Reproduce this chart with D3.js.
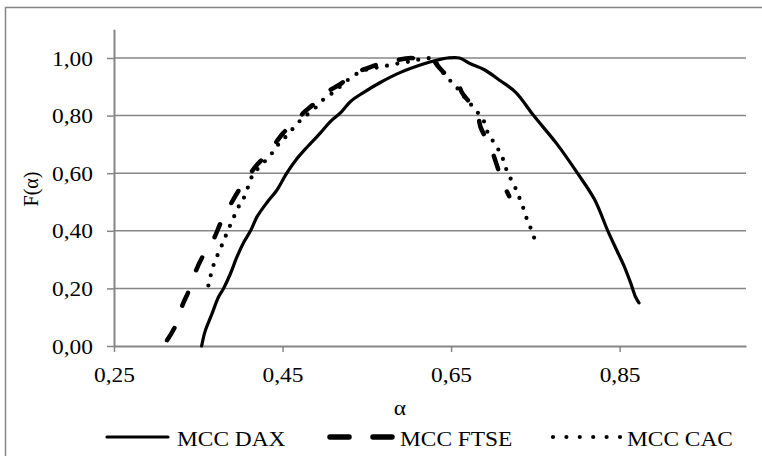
<!DOCTYPE html>
<html>
<head>
<meta charset="utf-8">
<script src="https://cdn.jsdelivr.net/npm/d3@7"></script>
<style>
  body { margin: 0; background: #fff; }
  text { font-family: "Liberation Serif", "Times New Roman", serif; fill: #000; }
</style>
</head>
<body>
<svg id="chart" width="762" height="456"></svg>
<script>
// tick values
const xTicks = [0.25, 0.45, 0.65, 0.85];
const yTicks = [0, 0.2, 0.4, 0.6, 0.8, 1.0];
const seriesNames = ['MCC DAX', 'MCC FTSE', 'MCC CAC'];

// [alpha, F(alpha)]
const daxData = [
  [0.354, 0.00], [0.358, 0.05], [0.366, 0.11], [0.374, 0.17], [0.380, 0.20],
  [0.388, 0.25], [0.396, 0.31], [0.404, 0.36], [0.412, 0.40], [0.420, 0.45],
  [0.432, 0.50], [0.443, 0.54], [0.455, 0.60], [0.467, 0.65], [0.479, 0.69],
  [0.495, 0.74], [0.507, 0.78], [0.519, 0.81], [0.531, 0.85], [0.546, 0.88],
  [0.566, 0.915], [0.590, 0.95], [0.618, 0.98], [0.634, 0.993], [0.646, 1.00],
  [0.660, 1.00], [0.673, 0.98], [0.689, 0.96], [0.709, 0.92], [0.727, 0.88],
  [0.748, 0.80], [0.776, 0.70], [0.800, 0.60], [0.820, 0.51], [0.836, 0.40],
  [0.847, 0.33], [0.855, 0.28], [0.863, 0.22], [0.869, 0.17], [0.873, 0.15]
];
const ftseData = [
  [0.313, 0.02], [0.323, 0.07], [0.331, 0.14], [0.340, 0.20], [0.347, 0.26],
  [0.357, 0.32], [0.368, 0.37], [0.377, 0.43], [0.388, 0.49], [0.398, 0.54],
  [0.412, 0.60], [0.420, 0.63], [0.433, 0.67], [0.443, 0.71], [0.451, 0.74],
  [0.469, 0.79], [0.475, 0.81], [0.487, 0.84], [0.497, 0.87], [0.507, 0.89],
  [0.519, 0.91], [0.527, 0.93], [0.534, 0.95], [0.546, 0.96], [0.566, 0.98],
  [0.582, 0.99], [0.602, 1.00], [0.615, 0.995], [0.626, 1.00], [0.635, 0.97],
  [0.645, 0.94], [0.657, 0.92], [0.663, 0.88], [0.681, 0.81], [0.685, 0.76],
  [0.697, 0.69], [0.703, 0.64], [0.711, 0.57], [0.719, 0.52]
];
const cacData = [
  [0.362, 0.21], [0.368, 0.28], [0.378, 0.35], [0.388, 0.42], [0.399, 0.49],
  [0.405, 0.52], [0.414, 0.59], [0.422, 0.62], [0.435, 0.66], [0.445, 0.70],
  [0.455, 0.73], [0.470, 0.78], [0.478, 0.80], [0.490, 0.83], [0.500, 0.86],
  [0.510, 0.88], [0.522, 0.91], [0.535, 0.94], [0.550, 0.96], [0.568, 0.97],
  [0.585, 0.98], [0.605, 0.99], [0.622, 1.00], [0.630, 0.99], [0.643, 0.94],
  [0.656, 0.90], [0.667, 0.86], [0.679, 0.82], [0.689, 0.78], [0.695, 0.73],
  [0.703, 0.70], [0.708, 0.67], [0.713, 0.64], [0.717, 0.60], [0.723, 0.57],
  [0.729, 0.53], [0.733, 0.50], [0.738, 0.46], [0.741, 0.43], [0.746, 0.40],
  [0.750, 0.36]
];

const svg = d3.select('#chart');
const grey = '#868686';
const sx = 1.17;   // the original picture is stretched sideways
const fmt = d => d3.format('.2f')(d).replace('.', ',');

// outer frame (runs off the right and bottom of the picture)
svg.append('rect')
  .attr('x', 5.5).attr('y', 7.5)
  .attr('width', 800).attr('height', 500)
  .attr('fill', 'none').attr('stroke', grey).attr('stroke-width', 1.5);

const x = d3.scaleLinear().domain([0.25, 1.0]).range([114, 746]);
const y = d3.scaleLinear().domain([0, 1.1]).range([346, 29.2]);

// gridlines
svg.append('g')
  .selectAll('line')
  .data(yTicks.filter(d => d > 0))
  .join('line')
  .attr('x1', x(0.25)).attr('x2', x(1.0))
  .attr('y1', d => y(d)).attr('y2', d => y(d))
  .attr('stroke', grey).attr('stroke-width', 1.5);

// y axis
const gy = svg.append('g')
  .attr('transform', `translate(${x(0.25)},0)`)
  .call(d3.axisLeft(y).tickValues(yTicks).tickFormat(fmt).tickSize(7).tickSizeOuter(0));
gy.select('.domain').attr('stroke', grey).attr('stroke-width', 2);
gy.selectAll('.tick line').attr('stroke', grey).attr('stroke-width', 1.5);
gy.selectAll('.tick text')
  .attr('x', null).attr('dy', '0.35em')
  .attr('transform', `translate(-21,0) scale(${sx},1)`)
  .style('font-size', '20px');

// x axis
const gx = svg.append('g')
  .attr('transform', `translate(0,${y(0)})`)
  .call(d3.axisBottom(x).tickValues(xTicks).tickFormat(fmt).tickSize(6).tickSizeOuter(0));
gx.select('.domain').attr('stroke', grey).attr('stroke-width', 2);
gx.selectAll('.tick line').attr('stroke', grey).attr('stroke-width', 1.5);
gx.selectAll('.tick text')
  .attr('y', null).attr('dy', '0.35em')
  .attr('transform', `translate(0,29) scale(${sx},1)`)
  .style('font-size', '20px');

svg.selectAll('.tick text').attr('font-family', null);

// axis titles
svg.append('text')
  .attr('transform', `translate(400,408) scale(${sx},1)`)
  .attr('text-anchor', 'middle').attr('dy', '0.35em')
  .style('font-size', '20px')
  .text('α');

svg.append('text')
  .attr('transform', 'translate(31,189) rotate(-90)')
  .attr('text-anchor', 'middle').attr('dy', '0.35em')
  .style('font-size', '20px')
  .text('F(α)');

// series
const line = d3.line()
  .x(d => x(d[0]))
  .y(d => y(d[1]))
  .curve(d3.curveCatmullRom.alpha(0.5));
const series = [
  { data: daxData, width: 3.2, dash: null },
  { data: ftseData, width: 4.5, dash: '14 24' },
  { data: cacData, width: 4.2, dash: '0 10.6' }
];
series.forEach(s => {
  svg.append('path')
    .datum(s.data)
    .attr('d', line)
    .attr('fill', 'none')
    .attr('stroke', '#000')
    .attr('stroke-width', s.width)
    .attr('stroke-linecap', 'round')
    .attr('stroke-linejoin', 'round')
    .attr('stroke-dasharray', s.dash);
});

// legend
const legendItems = [
  { x1: 107, x2: 168, tx: 177, width: 3.2, dash: null },
  { x1: 330, x2: 392, tx: 400, width: 5.5, dash: '19 24' },
  { x1: 553, x2: 620, tx: 627, width: 4.2, dash: '0 13.4' }
];
const legend = svg.append('g');
legendItems.forEach((d, i) => {
  legend.append('line')
    .attr('x1', d.x1).attr('x2', d.x2)
    .attr('y1', 437).attr('y2', 437)
    .attr('stroke', '#000')
    .attr('stroke-width', d.width)
    .attr('stroke-linecap', 'round')
    .attr('stroke-dasharray', d.dash);
  legend.append('text')
    .attr('transform', `translate(${d.tx},439) scale(${sx},1)`)
    .attr('dy', '0.35em')
    .style('font-size', '20px')
    .text(seriesNames[i]);
});
</script>
</body>
</html>
